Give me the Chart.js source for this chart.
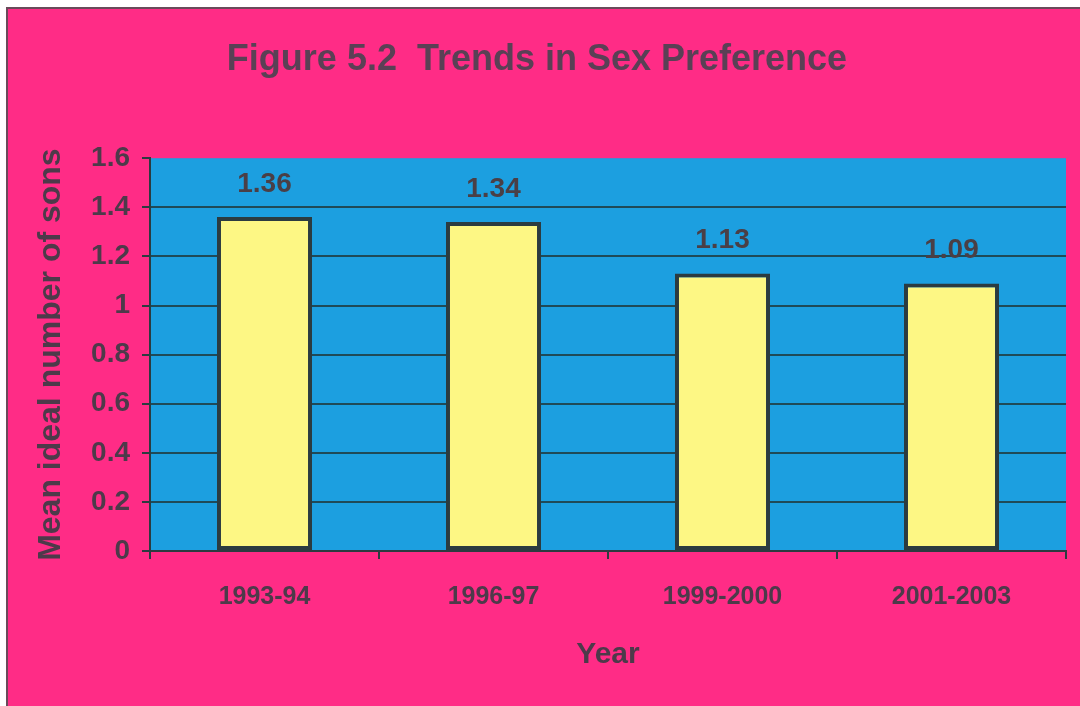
<!DOCTYPE html>
<html>
<head>
<meta charset="utf-8">
<script src="https://cdn.jsdelivr.net/npm/chart.js@4/dist/chart.umd.min.js"></script>
<style>
  html, body { margin: 0; padding: 0; background: #ffffff; }
  #wrap { width: 1080px; height: 706px; }
</style>
</head>
<body>
<div id="wrap"><canvas id="c" width="1080" height="706"></canvas></div>
<script>
// Survey rounds and mean ideal number of sons
const years = ['1993-94', '1996-97', '1999-2000', '2001-2003'];
const meanIdealSons = [1.36, 1.34, 1.13, 1.09];
const yTicks = [0, 0.2, 0.4, 0.6, 0.8, 1, 1.2, 1.4, 1.6];

const PINK = '#ff2c86';
const BLUE = '#1c9fe0';
const YELLOW = '#fdf784';
const DARK = '#2b3b40';
const TEXT = '#4d3a4a';
const SANS = "'Liberation Sans', Arial, sans-serif";

// Page background, pink panel and blue plot area
const backdrop = {
  id: 'backdrop',
  beforeDraw(chart) {
    const { ctx, chartArea: a, width, height } = chart;
    ctx.save();
    ctx.fillStyle = '#ffffff';
    ctx.fillRect(0, 0, width, height);
    ctx.fillStyle = PINK;
    ctx.fillRect(7, 8, width - 7, height - 8);
    ctx.strokeStyle = '#6a4a5a';
    ctx.lineWidth = 2;
    ctx.beginPath();
    ctx.moveTo(7, height);
    ctx.lineTo(7, 8);
    ctx.lineTo(width, 8);
    ctx.stroke();
    ctx.fillStyle = BLUE;
    ctx.fillRect(a.left, a.top, a.right - a.left, a.bottom - a.top);
    ctx.restore();
  }
};

// Value labels above each bar
const valueLabels = {
  id: 'valueLabels',
  afterDatasetsDraw(chart) {
    const { ctx } = chart;
    const meta = chart.getDatasetMeta(0);
    const data = chart.data.datasets[0].data;
    ctx.save();
    ctx.font = 'bold 28px ' + SANS;
    ctx.fillStyle = '#4a3f46';
    ctx.textAlign = 'center';
    ctx.textBaseline = 'middle';
    meta.data.forEach((bar, i) => {
      ctx.fillText(data[i].toFixed(2), bar.x, bar.y - 33);
    });
    ctx.restore();
  }
};

new Chart(document.getElementById('c'), {
  type: 'bar',
  data: {
    labels: years,
    datasets: [{
      data: meanIdealSons,
      backgroundColor: YELLOW,
      borderColor: DARK,
      borderWidth: 4,
      borderSkipped: false,
      barPercentage: 0.415,
      categoryPercentage: 1
    }]
  },
  options: {
    responsive: false,
    animation: false,
    devicePixelRatio: 1,
    layout: { padding: { left: 8, right: 14, top: 8, bottom: 8 } },
    plugins: {
      legend: { display: false },
      tooltip: { enabled: false },
      title: {
        display: true,
        text: 'Figure 5.2  Trends in Sex Preference',
        color: '#5a4055',
        font: { family: SANS, size: 36, weight: 'bold', lineHeight: 1.2 },
        padding: { top: 30, bottom: 77 }
      }
    },
    scales: {
      x: {
        grid: {
          display: true,
          drawOnChartArea: false,
          drawTicks: true,
          tickLength: 8,
          offset: true,
          color: DARK,
          lineWidth: 2
        },
        border: { display: true, color: DARK, width: 2 },
        ticks: {
          color: TEXT,
          padding: 23,
          font: { family: SANS, size: 25, weight: 'bold' }
        },
        title: {
          display: true,
          text: 'Year',
          color: TEXT,
          font: { family: SANS, size: 30, weight: 'bold' },
          padding: { top: 0, bottom: 25 }
        },
        afterFit(scale) { scale.height = 147; }
      },
      y: {
        min: 0,
        max: 1.6,
        afterBuildTicks(scale) { scale.ticks = yTicks.map(v => ({ value: v })); },
        grid: {
          color: ctx => (ctx.tick && ctx.tick.value === 1.6 ? 'rgba(0,0,0,0)' : '#1f4a58'),
          tickColor: DARK,
          lineWidth: 2,
          tickLength: 8,
          drawTicks: true
        },
        border: { display: true, color: DARK, width: 2 },
        ticks: {
          color: TEXT,
          padding: 12,
          font: { family: SANS, size: 28, weight: 'bold' },
          callback: v => String(Math.round(v * 10) / 10)
        },
        title: {
          display: true,
          text: 'Mean ideal number of sons',
          color: TEXT,
          font: { family: SANS, size: 32, weight: 'bold' },
          padding: { top: 24, bottom: 0 }
        },
        afterFit(scale) { scale.width = 142; }
      }
    }
  },
  plugins: [backdrop, valueLabels]
});
</script>
</body>
</html>
